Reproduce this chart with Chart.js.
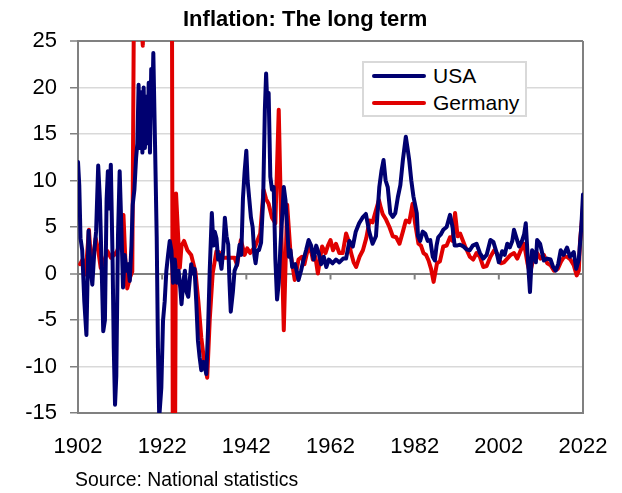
<!DOCTYPE html>
<html>
<head>
<meta charset="utf-8">
<script src="https://cdn.jsdelivr.net/npm/chart.js@4"></script>
<style>
  body { margin: 0; background: #fff; }
  #wrap { position: relative; width: 622px; height: 493px; font-family: "Liberation Sans", Arial, sans-serif; }
  #title { position: absolute; left: 183px; top: 8px; font-size: 22px; line-height: 22px; font-weight: bold; color: #000; white-space: nowrap; }
  #source { position: absolute; left: 75px; top: 470px; font-size: 19.4px; line-height: 19px; color: #000; white-space: nowrap; }
  #legend { position: absolute; left: 362px; top: 61px; width: 161px; height: 52px; border: 2px solid #d9d9d9; background: #fff; }
  .row { position: absolute; left: 8px; height: 24px; }
  .row i { position: absolute; left: 0; top: 10px; width: 54px; height: 4px; border-radius: 2px; }
  .row span { position: absolute; left: 61px; top: 0; font-size: 21px; line-height: 24px; white-space: nowrap; }
</style>
</head>
<body>
<div id="wrap">
  <canvas id="inflationChart" width="622" height="493"></canvas>
  <div id="title">Inflation: The long term</div>
  <div id="legend">
    <div class="row" style="top:1px"><i style="background:#000070"></i><span>USA</span></div>
    <div class="row" style="top:28px"><i style="background:#e00000"></i><span>Germany</span></div>
  </div>
  <div id="source">Source: National statistics</div>
</div>
<script>
// 연도 / 인플레이션(%) - 그림에서 읽은 값
const usaYears = [1902.0, 1902.3, 1902.6, 1903.0, 1903.5, 1904.0, 1904.5, 1905.0, 1905.4, 1905.9, 1906.3, 1906.8, 1907.2, 1907.6, 1908.0, 1908.4, 1908.8, 1909.1, 1909.4, 1909.8,
  1910.2, 1910.5, 1910.8, 1911.1, 1911.5, 1911.9, 1912.3, 1912.7, 1913.1, 1913.5, 1913.9, 1914.3, 1914.7, 1915.0, 1915.4, 1915.8, 1916.1, 1916.4, 1916.7, 1917.0,
  1917.3, 1917.6, 1917.9, 1918.2, 1918.5, 1918.8, 1919.1, 1919.4, 1919.7, 1919.9, 1920.3, 1920.7, 1921.0, 1921.3, 1921.8, 1922.2, 1922.6, 1923.0, 1923.4, 1923.8,
  1924.2, 1924.6, 1925.0, 1925.5, 1925.9, 1926.3, 1926.6, 1927.0, 1927.4, 1927.8, 1928.2, 1928.6, 1928.9, 1929.3, 1929.7, 1930.1, 1930.5, 1930.9, 1931.3, 1931.8,
  1932.5, 1932.9, 1933.3, 1933.8, 1934.2, 1934.5, 1934.9, 1935.3, 1935.6, 1936.1, 1936.5, 1936.9, 1937.3, 1937.7, 1938.0, 1938.3, 1938.8, 1939.2, 1939.8, 1940.4,
  1940.8, 1941.2, 1941.6, 1942.0, 1942.3, 1942.7, 1943.1, 1943.5, 1943.9, 1944.2, 1944.6, 1945.0, 1945.5, 1946.0, 1946.4, 1946.7, 1947.0, 1947.3, 1947.7, 1948.1,
  1948.5, 1948.9, 1949.3, 1949.7, 1950.1, 1950.5, 1950.9, 1951.3, 1951.7, 1952.1, 1952.5, 1952.9, 1953.6, 1954.4, 1955.0, 1955.6, 1956.2, 1956.8, 1957.4, 1958.0,
  1958.6, 1959.2, 1959.8, 1960.4, 1961.0, 1961.6, 1962.5, 1963.3, 1964.1, 1965.0, 1965.7, 1966.5, 1967.3, 1968.0, 1968.8, 1969.6, 1970.4, 1971.2, 1972.0, 1972.8,
  1973.6, 1974.1, 1974.6, 1975.1, 1975.6, 1976.2, 1976.8, 1977.4, 1978.0, 1978.6, 1979.2, 1979.9, 1980.3, 1980.7, 1981.2, 1981.7, 1982.5, 1982.8, 1983.3, 1983.9,
  1984.5, 1985.1, 1985.7, 1986.3, 1986.8, 1987.2, 1987.6, 1988.2, 1988.8, 1989.6, 1990.4, 1991.0, 1991.5, 1992.0, 1992.8, 1993.6, 1994.3, 1995.1, 1995.8, 1996.7,
  1997.5, 1998.3, 1999.1, 2000.0, 2000.7, 2001.5, 2002.0, 2002.8, 2003.4, 2004.0, 2004.6, 2005.2, 2005.6, 2006.2, 2006.8, 2007.5, 2008.0, 2008.4, 2008.9, 2009.4,
  2009.9, 2010.3, 2010.8, 2011.1, 2011.8, 2012.7, 2013.5, 2014.3, 2014.9, 2015.5, 2016.1, 2016.7, 2017.4, 2018.2, 2018.9, 2019.8, 2020.4, 2021.0, 2021.6, 2022.0];
const usaRates = [12.0, 9.5, 3.8, 2.5, -3, -6.6, 4.6, 0.5, -1.2, 2.5, 4.5, 11.6, 8, 1, -6.2, -5, 8, 11, 7, 11.7,
  2, -8, -14.1, -11, 4, 11, 5, -1.5, 2, 0.3, 1, -0.8, 3, 7.4, 9, 12.4, 14, 20.3, 13.5, 19.5,
  13, 20, 13.5, 19, 14, 20.5, 13, 22, 19, 23.7, 14, 4, -8, -15.5, -12.3, -5.1, -3, 0.3, 2, 3.5,
  2.5, -1, 1.5, -1, 0.3, -1.5, -3.3, -1, 0.3, -2, -2.5, -0.5, 1, 0, 0.5, -3, -7.2, -9, -10.4, -9.5,
  -10.8, -6, 0.3, 6.5, 3, 4.5, 3.8, 1.5, 2, 0.5, 2.5, 6, 4, 3.1, -1, -4.1, -2, 0.3, 1, 3.1,
  2, 8.1, 11, 13.2, 10, 8, 6, 5, 2, 1.1, 2.5, 2.5, 3.3, 8, 17.6, 21.5, 18, 19.4, 10.4, 9,
  9.3, 1.5, -2.8, -1, 2.9, 6, 9.3, 7.9, 5, 1.8, 2.5, 0.7, 1, -0.7, 0.3, 1.5, 2.5, 3.6, 3, 1.5,
  3, 2.2, 1, 1.8, 0.7, 1.5, 1.1, 1.5, 1.2, 1.6, 1.6, 3.5, 2.9, 4.5, 5.4, 6, 6.4, 4.5, 3.2, 4,
  9.3, 11, 12.2, 10, 9.3, 6.5, 6.1, 6.5, 8.2, 9.5, 12.2, 14.7, 13.5, 12.2, 10, 8.3, 6.5, 4, 3.5, 4.5,
  4.3, 3.5, 3.6, 1.8, 1.4, 3, 3.9, 4.2, 4.7, 5, 6.3, 5, 3, 3, 3.1, 2.9, 2.6, 2.5, 3, 3.2,
  2.2, 1.6, 2, 3.6, 3.4, 2.2, 1.2, 2.4, 2, 3.2, 2.8, 3.5, 4.7, 3.8, 2.9, 3.5, 4.2, 5.4, 1.5, -2,
  2.5, 2.2, 1.2, 3.6, 3.2, 1.4, 1.6, 1.5, 0.7, 0.3, 1, 2.5, 2, 2.8, 1.8, 2.3, 0.5, 1.5, 5, 8.5];

const deYears = [1902.5, 1903.1, 1903.8, 1904.6, 1905.0, 1905.4, 1906.2, 1906.8, 1907.4, 1908.2, 1909.0, 1909.8, 1910.6, 1911.3, 1912.1, 1912.8, 1913.3, 1913.7, 1914.3, 1914.9,
  1915.3, 1916.0, 1917.0, 1917.4, 1917.8, 1924.2, 1924.7, 1925.3, 1925.8, 1926.2, 1926.6, 1927.2, 1928.0, 1928.9, 1929.9, 1930.6, 1931.3, 1932.0, 1932.7, 1933.3,
  1934.0, 1934.9, 1935.5, 1936.1, 1937.5, 1939.2, 1939.8, 1940.7, 1941.6, 1942.2, 1942.9, 1944.1, 1945.3, 1946.1, 1946.7, 1947.3, 1948.1, 1948.9, 1949.7, 1950.3,
  1950.9, 1951.7, 1952.5, 1953.5, 1954.4, 1955.2, 1955.8, 1956.4, 1957.2, 1957.8, 1958.4, 1959.0, 1959.5, 1960.0, 1960.8, 1961.4, 1962.0, 1962.6, 1963.3, 1964.1,
  1964.9, 1965.7, 1966.3, 1966.9, 1967.5, 1968.1, 1968.9, 1969.7, 1970.5, 1971.3, 1972.0, 1972.8, 1973.5, 1974.0, 1974.4, 1975.2, 1976.0, 1976.8, 1977.6, 1978.4,
  1979.2, 1979.9, 1980.7, 1981.5, 1982.1, 1982.9, 1983.5, 1984.1, 1984.7, 1985.3, 1985.9, 1986.5, 1987.3, 1988.0, 1988.8, 1989.6, 1990.4, 1991.0, 1991.6, 1992.2,
  1992.8, 1994.0, 1995.1, 1995.9, 1996.7, 1997.5, 1998.3, 1999.1, 2000.0, 2000.9, 2001.5, 2002.5, 2003.2, 2004.0, 2004.8, 2005.6, 2006.4, 2007.2, 2008.0, 2008.8,
  2009.4, 2010.3, 2011.1, 2011.9, 2012.7, 2013.5, 2014.3, 2015.1, 2016.0, 2016.7, 2017.5, 2018.2, 2019.0, 2019.8, 2020.5, 2021.0, 2021.3, 2021.6, 2021.9, 2022.0];
const deRates = [1.0, 1.5, -0.1, 4.7, 2, 0.9, 3.8, 2.5, 0.6, 1.3, 2.4, 1.7, 2, 2.4, 3.5, 6.3, 1, -1.6, -0.5, 0.2,
  30, 40, 27, 24.5, 35, 60, -60, 8.6, 4, 0.6, 3, 3.5, 2.5, 2, 0.2, -3, -6.9, -9.5, -11.2, -5,
  0, 2.4, 2.3, 1.7, 1.7, 1.7, 0.9, 3.6, 2, 2.7, 2.2, 2.9, 4.3, 9, 8, 7.5, 6, 5.4, 17.6, 5,
  -6.1, 7.4, 2.2, -0.7, 1.5, 1.8, 1, 2.2, 2.9, 1.5, 1.8, 0, 1.5, 2.9, 2.2, 3, 3.6, 2.5, 3.2, 2.2,
  2.2, 4.3, 3.5, 2.2, 1.2, 0.7, 1.8, 2.5, 3.8, 5.7, 5.5, 6.8, 7.9, 7, 6.4, 5.8, 5, 4, 3.9, 3.2,
  4.5, 5.7, 5.5, 7.5, 5.4, 3.2, 3, 2.2, 2, 1.4, 0.5, -0.9, 1.1, 1.3, 2.9, 3, 3.9, 3.5, 6.5, 4,
  4.3, 2.9, 1.8, 1.5, 2.2, 1.8, 0.7, 0.8, 1.8, 2.5, 2.2, 1.1, 1.2, 1.6, 2, 2.2, 1.6, 2.5, 3.2, 1.1,
  0, 1.8, 2.2, 1.6, 2, 1.1, 0.9, 0.3, 0.5, 1.2, 1.8, 1.8, 1.5, 0.9, -0.2, 0.3, 3.5, 5, 6.5, 7.3];

const xTicks = [1902, 1922, 1942, 1962, 1982, 2002, 2022];
const yTicks = [-15, -10, -5, 0, 5, 10, 15, 20, 25];

const toPoints = (xs, ys) => xs.map((x, i) => ({ x: x, y: ys[i] }));

// 오른쪽 테두리 + 0 선 위의 작은 눈금
const framePlugin = {
  id: 'frame',
  beforeDatasetsDraw(chart) {
    const { ctx, chartArea: a, scales } = chart;
    ctx.save();
    ctx.strokeStyle = '#808080';
    ctx.lineWidth = 2;
    ctx.beginPath();
    ctx.moveTo(a.right, a.top);
    ctx.lineTo(a.right, a.bottom);
    const y0 = scales.y.getPixelForValue(0);
    xTicks.slice(1, -1).forEach(v => {
      const px = scales.x.getPixelForValue(v);
      ctx.moveTo(px, y0);
      ctx.lineTo(px, y0 + 6);
    });
    ctx.stroke();
    ctx.restore();
  }
};

const font = { family: '"Liberation Sans", Arial, sans-serif', size: 22 };

new Chart(document.getElementById('inflationChart'), {
  type: 'line',
  data: {
    datasets: [
      { label: 'USA', data: toPoints(usaYears, usaRates), borderColor: '#000070', borderWidth: 4 },
      { label: 'Germany', data: toPoints(deYears, deRates), borderColor: '#e00000', borderWidth: 4 }
    ]
  },
  options: {
    responsive: false,
    animation: false,
    parsing: false,
    layout: { padding: { top: 41, right: 39, left: 0, bottom: 0 } },
    elements: {
      point: { radius: 0 },
      line: { tension: 0, borderJoinStyle: 'round', borderCapStyle: 'round' }
    },
    plugins: {
      legend: { display: false },
      tooltip: { enabled: false }
    },
    scales: {
      x: {
        type: 'linear',
        min: 1902,
        max: 2022,
        afterBuildTicks: s => { s.ticks = xTicks.map(v => ({ value: v })); },
        afterFit: s => { s.height = 80; },
        // 눈금선은 투명하게: 라벨 위치만 아래로 내림 (ticks.padding은 좌우 여백에도 더해짐)
        grid: { drawOnChartArea: false, drawTicks: true, tickLength: 21, tickColor: 'rgba(0,0,0,0)' },
        border: { color: '#808080', width: 2 },
        ticks: { color: '#000', font: font, padding: 0, maxRotation: 0, autoSkip: false, callback: v => String(v) }
      },
      y: {
        min: -15,
        max: 25,
        afterBuildTicks: s => { s.ticks = yTicks.map(v => ({ value: v })); },
        afterFit: s => { s.width = 78; },
        grid: {
          color: c => (c.tick && (c.tick.value === 0 || c.tick.value === 25)) ? '#808080' : '#d9d9d9',
          lineWidth: c => (c.tick && (c.tick.value === 0 || c.tick.value === 25)) ? 2 : 1.5,
          tickColor: '#808080',
          tickWidth: 1.5,
          tickLength: 8
        },
        border: { color: '#808080', width: 2 },
        ticks: { color: '#000', font: font, padding: 13 }
      }
    }
  },
  plugins: [framePlugin]
});
</script>
</body>
</html>
